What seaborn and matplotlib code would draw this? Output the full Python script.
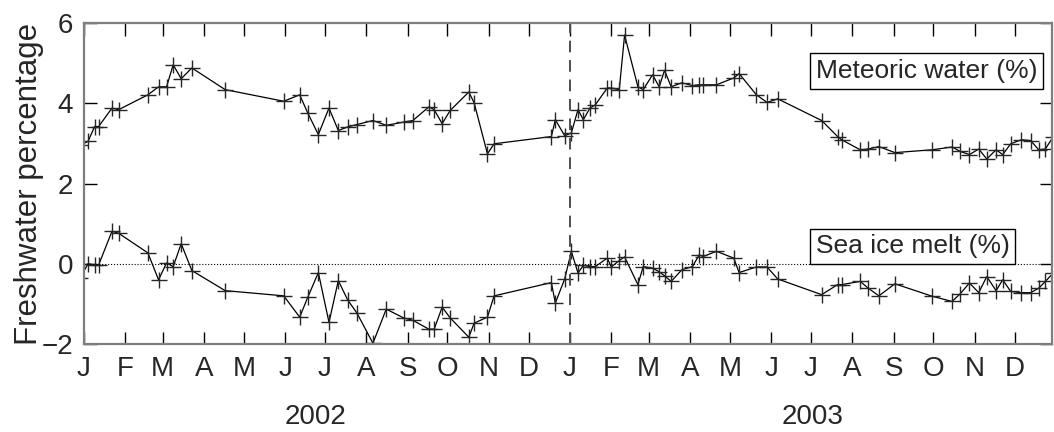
import pandas as pd
import matplotlib
matplotlib.use('Agg')
import matplotlib.pyplot as plt
import seaborn as sns

# sample dates and freshwater fractions
dates = ['2001-12-29',
         '2002-01-04', '2002-01-09', '2002-01-12', '2002-01-22', '2002-01-27',
         '2002-02-18', '2002-02-26', '2002-03-04', '2002-03-09', '2002-03-15',
         '2002-03-23', '2002-04-17', '2002-05-31', '2002-06-12', '2002-06-18',
         '2002-06-26', '2002-07-04', '2002-07-11', '2002-07-18', '2002-07-25',
         '2002-08-06', '2002-08-16', '2002-08-29', '2002-09-05', '2002-09-17',
         '2002-09-21', '2002-09-27', '2002-10-03', '2002-10-17', '2002-10-21',
         '2002-10-31', '2002-11-05', '2002-12-18', '2002-12-21', '2002-12-28',
         '2003-01-02', '2003-01-07', '2003-01-11', '2003-01-16', '2003-01-20',
         '2003-01-29', '2003-02-01', '2003-02-07', '2003-02-11', '2003-02-21',
         '2003-02-25', '2003-03-04', '2003-03-09', '2003-03-13', '2003-03-18',
         '2003-03-26', '2003-04-03', '2003-04-08', '2003-04-11', '2003-04-21',
         '2003-05-04', '2003-05-08', '2003-05-21', '2003-05-29', '2003-06-06',
         '2003-07-09', '2003-07-21', '2003-07-24', '2003-08-07', '2003-08-13',
         '2003-08-21', '2003-09-02', '2003-09-30', '2003-10-15', '2003-10-21',
         '2003-10-28', '2003-11-04', '2003-11-10', '2003-11-17', '2003-11-22',
         '2003-11-28', '2003-12-06', '2003-12-13', '2003-12-19', '2003-12-24',
         '2003-12-30']

meteoric = [2.95,
            3.05, 3.42, 3.42, 3.88, 3.84,
            4.21, 4.41, 4.41, 4.96, 4.61,
            4.88, 4.34, 4.05, 4.21, 3.76,
            3.22, 3.88, 3.32, 3.41, 3.47,
            3.57, 3.45, 3.53, 3.57, 3.91,
            3.84, 3.49, 3.82, 4.28, 4.01,
            2.74, 2.99, 3.17, 3.59, 3.19,
            3.26, 3.84, 3.59, 3.88, 3.96,
            4.38, 4.38, 4.34, 5.70, 4.41,
            4.34, 4.71, 4.41, 4.82, 4.41,
            4.51, 4.44, 4.46, 4.46, 4.46,
            4.63, 4.74, 4.21, 4.02, 4.11,
            3.57, 3.17, 3.09, 2.84, 2.86,
            2.92, 2.77, 2.84, 2.91, 2.80,
            2.72, 2.86, 2.61, 2.84, 2.72,
            2.99, 3.09, 3.07, 2.84, 2.86,
            3.17]

sea_ice = [-0.36,
           0.00, -0.03, -0.03, 0.81, 0.76,
           0.27, -0.40, 0.02, -0.07, 0.50,
           -0.17, -0.67, -0.80, -1.33, -0.84,
           -0.22, -1.46, -0.42, -0.90, -1.23,
           -1.98, -1.13, -1.35, -1.41, -1.63,
           -1.63, -1.08, -1.35, -1.83, -1.48,
           -1.33, -0.80, -0.47, -0.98, -0.38,
           0.31, -0.23, -0.04, -0.07, -0.07,
           0.14, -0.08, 0.08, 0.17, -0.52,
           -0.07, -0.11, -0.20, -0.30, -0.44,
           -0.15, -0.07, 0.22, 0.18, 0.31,
           0.14, -0.22, -0.08, -0.08, -0.38,
           -0.77, -0.52, -0.52, -0.44, -0.61,
           -0.80, -0.50, -0.81, -0.94, -0.75,
           -0.48, -0.72, -0.32, -0.67, -0.40,
           -0.69, -0.72, -0.72, -0.61, -0.44,
           -0.23]

month_letters = ['J', 'F', 'M', 'A', 'M', 'J', 'J', 'A', 'S', 'O', 'N', 'D'] * 2
years = ['2002', '2003']
year_centers = ['2002-06-24', '2003-07-02']
labels = ['Meteoric water (%)', 'Sea ice melt (%)']

sns.set_style('ticks')
plt.rcParams['font.family'] = ['Liberation Sans', 'DejaVu Sans']

df = pd.DataFrame({'date': pd.to_datetime(dates),
                   labels[0]: meteoric,
                   labels[1]: sea_ice})

fig = plt.figure(figsize=(10.54, 4.32), dpi=100)
ax = fig.add_axes([84 / 1054, 1 - 344 / 432, 968 / 1054, 321 / 432])

for col in labels:
    sns.lineplot(data=df, x='date', y=col, ax=ax, color='black', lw=0.9,
                 marker='+', markersize=11, mec='#262626', mew=1.0)

ax.axhline(0, ls=':', color='black', lw=0.8)
ax.axvline(pd.Timestamp('2003-01-01'), color='#4d4d4d', lw=1.4, dashes=(6, 4))

# month ticks with first letters
month_starts = pd.date_range('2002-01-01', '2003-12-01', freq='MS')
ax.set_xticks(month_starts)
ax.set_xticklabels(month_letters)
ax.set_xlim(pd.Timestamp('2002-01-01'), pd.Timestamp('2003-12-29'))
ax.set_ylim(-2, 6)
ax.set_yticks([-2, 0, 2, 4, 6])
ax.set_xlabel('')
ax.set_ylabel('Freshwater percentage', fontsize=22.5)
ax.yaxis.set_label_coords(-0.041, 0.5)

ax.tick_params(axis='both', direction='in', length=9, width=1, color='black',
               top=True, right=True, labelsize=20)
ax.tick_params(axis='x', pad=9)
ax.tick_params(axis='y', pad=8)
for s in ax.spines.values():
    s.set_color('#7f7f7f')
    s.set_linewidth(1.6)

# year labels under the month letters
for yr, xc in zip(years, year_centers):
    ax.text(pd.Timestamp(xc), -0.228, yr, transform=ax.get_xaxis_transform(),
            ha='center', va='center', fontsize=20)

# boxed series labels
box = dict(boxstyle='square,pad=0.22', fc='white', ec='black', lw=1)
ax.text(0.756, 0.850, labels[0], transform=ax.transAxes, ha='left', va='center',
        fontsize=19, bbox=box)
ax.text(0.756, 0.304, labels[1], transform=ax.transAxes, ha='left', va='center',
        fontsize=19, bbox=box)

fig.savefig('out.png', dpi=100)
